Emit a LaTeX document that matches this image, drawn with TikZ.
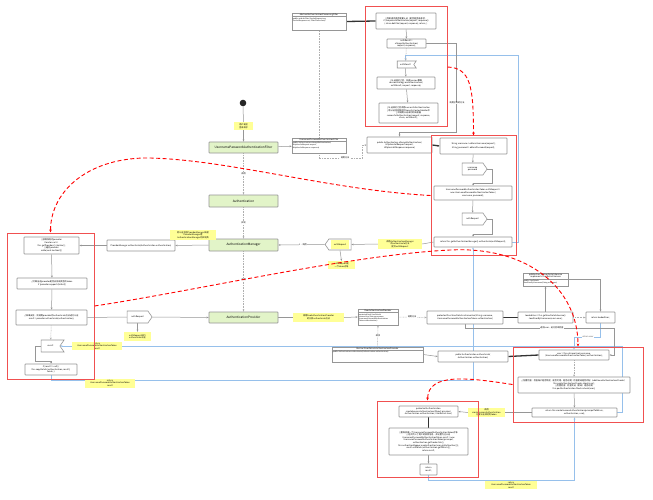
\documentclass[tikz,border=0pt]{standalone}
\usepackage{fontspec}
\newfontfamily\cjk{Noto Sans CJK SC}
\usetikzlibrary{arrows.meta,shapes.symbols,calc}
\definecolor{redf}{RGB}{240,80,80}
\definecolor{bluel}{RGB}{150,192,235}
\definecolor{greenf}{RGB}{226,244,200}
\definecolor{yel}{RGB}{255,255,150}
\definecolor{bord}{RGB}{150,150,150}
\definecolor{dotg}{RGB}{175,175,175}
\pgfdeclarelayer{back}
\pgfdeclarelayer{bg}
\pgfsetlayers{back,bg,main}
\tikzset{
 bx/.style={draw=bord, line width=0.6pt, fill=white, rounded corners=0.6pt, align=center, inner sep=0.5pt},
 grn/.style={draw=bord, line width=0.6pt, fill=greenf, rounded corners=0.6pt, minimum width=69pt, font=\cjk\fontsize{3.1}{3.8}\selectfont},
 cls/.style={draw=bord, line width=0.6pt, fill=white, inner sep=0pt},
 note/.style={fill=yel, align=center, inner sep=0.4pt},
 redbox/.style={draw=redf, line width=1pt},
 conn/.style={draw=bord, line width=0.5pt},
 arr/.style={-{Stealth[length=2.2pt,width=1.8pt]}},
 dotc/.style={draw=dotg, dash pattern=on 0.8pt off 0.8pt},
 thk/.style={draw=black!80, line width=1.3pt},
 blu/.style={draw=bluel, line width=0.7pt},
 rdash/.style={draw=red, line width=0.9pt, dash pattern=on 4pt off 2.5pt},
 rtip/.style={-{Stealth[length=3pt,width=2.6pt]}},
 lbl/.style={fill=white, inner sep=0.4pt},
 sigto/.style={draw=bord, line width=0.6pt, fill=white, signal, signal to=#1, signal pointer angle=110, inner sep=0.5pt, align=center},
 sigfrom/.style={draw=bord, line width=0.6pt, fill=white, signal, signal to=nowhere, signal from=#1, signal pointer angle=110, inner sep=0.5pt, align=center},
}
\newcommand\mkcls[8]{%
 \node[cls, minimum width=#4pt, minimum height=#5pt] (#1) at (#2,#3) {};
 \draw[draw=bord, line width=0.5pt] ([yshift=-#6pt]#1.north west) -- ([yshift=-#6pt]#1.north east);
 \node[inner sep=0, align=center] at ($(#1.north)+(0,#6/2)$) {#7};
 \node[inner sep=0, align=left, anchor=north west, font=\cjk\fontsize{1.8}{2.2}\selectfont] at ([shift={(1pt,-#6pt-0.8pt)}]#1.north west) {#8};
}
\begin{document}
\begin{tikzpicture}[x=1pt,y=-1pt,font=\cjk\fontsize{2.1}{2.6}\selectfont]
\begin{pgfonlayer}{back}
\fill[white] (0,0) rectangle (653,500);
\end{pgfonlayer}
\useasboundingbox (0,0) rectangle (653,500);

% ---------- start and green boxes ----------
\node[circle, fill=black!85, minimum size=6.6pt, inner sep=0] (start) at (243,103) {};
\node[note, minimum width=19pt, minimum height=8pt] (nStart) at (243.5,126) {用户发起\\登录请求};
\node[grn, minimum height=11pt] (gF) at (243.5,147.5) {UsernamePasswordAuthenticationFilter};
\node[grn, minimum height=12pt] (gA) at (243.5,201) {Authentication};
\node[grn, minimum height=12pt] (gM) at (243.5,245) {AuthenticationManager};
\node[grn, minimum height=11pt] (gP) at (243.5,317.5) {AuthenticationProvider};

% ---------- class boxes ----------
\mkcls{cAbs}{319}{21.5}{54}{17}{4}{AbstractAuthenticationProcessingFilter}{public void doFilter(ServletRequest req,\\ServletResponse res, FilterChain chain)}
\mkcls{cUP}{319}{145.5}{54}{15}{3.5}{UsernamePasswordAuthenticationFilter}{public Authentication attemptAuthentication(\\HttpServletRequest request,\\HttpServletResponse response)}
\mkcls{cDao}{378}{317}{40}{16}{4}{DaoAuthenticationProvider}{protected final UserDetails\\retrieveUser(String username,\\UsernamePasswordAuthentication\\Token authentication)}
\mkcls{cAUD}{377.5}{354.5}{91}{15}{3.5}{AbstractUserDetailsAuthenticationProvider}{public Authentication authenticate(Authentication authentication)}
\mkcls{cMy}{545.5}{279.5}{45}{13}{6.5}{public class MyUserDetailsService\\implements UserDetailsService}{public UserDetails\\loadUserByUsername(String username)}

% ---------- red box 1 ----------
\node[bx, minimum width=60pt, minimum height=16pt] (b1) at (406,21) {//判断请求是否需要认证（是否是登录请求）\\if (!requiresAuthentication(request, response))\\\{ chain.doFilter(request, response); return; \}};
\node[bx, minimum width=39pt, minimum height=9pt] (b2) at (406.5,43.5) {authResult =\\attemptAuthentication(\\request, response);};
\node[sigfrom=east, minimum width=19pt, minimum height=7pt] (sAR) at (405.5,64.5) {authResult};
\node[bx, minimum width=58pt, minimum height=12pt] (b3) at (406,83) {//认证成功之后，处理session策略\\sessionStrategy.onAuthentication(\\authResult, request, response);};
\node[bx, minimum width=59pt, minimum height=20pt] (b4) at (408.5,113) {//认证成功之后调用successfulAuthentication\\//将认证信息保存到SecurityContextHolder中\\//并调用认证成功的处理器\\successfulAuthentication(request, response,\\chain, authResult);};

% ---------- red box 2 ----------
\node[bx, minimum width=65pt, minimum height=16pt] (cAtt) at (399.5,145) {public Authentication attemptAuthentication(\\HttpServletRequest request,\\HttpServletResponse response)};
\node[bx, minimum width=67pt, minimum height=16pt] (p) at (473.5,146) {String username = obtainUsername(request);\\[2pt]String password = obtainPassword(request);};
\node[sigto=east, minimum width=25pt, minimum height=12pt] (q) at (472.5,169) {username\\password};
\node[bx, minimum width=78pt, minimum height=14pt] (r) at (473,193) {UsernamePasswordAuthenticationToken authRequest =\\new UsernamePasswordAuthenticationToken(\\username, password);};
\node[sigto=east, minimum width=25pt, minimum height=12pt] (s) at (472.5,219) {authRequest};
\node[bx, minimum width=78pt, minimum height=10pt] (t) at (473,242) {return this.getAuthenticationManager().authenticate(authRequest);};

% ---------- middle ----------
\node[sigto=west, minimum width=26pt, minimum height=11pt] (aR2) at (340,244.5) {\colorbox{yel}{authRequest}};
\node[note, minimum width=44pt, minimum height=10pt] (nSub) at (400,244) {调用AuthenticationManager\\的authenticate方法\\提交authRequest};
\node[note, minimum width=27pt, minimum height=8pt] (nTok) at (341.5,265) {authRequest是\\一个token对象};
\node[bx, minimum width=68pt, minimum height=11pt] (pm) at (141,245.5) {ProviderManager.authenticate(Authentication authentication)};
\node[note, minimum width=46pt, minimum height=10pt] (nPM) at (193,235) {把认证交给ProviderManager处理\\ProviderManager是\\AuthenticationManager的实现类};

% ---------- red box A ----------
\node[bx, minimum width=55pt, minimum height=17pt] (a1) at (51.5,245.5) {//获取所有的provider\\Iterator var8 =\\this.getProviders().iterator();\\//遍历provider\\while(var8.hasNext())};
\node[bx, minimum width=70pt, minimum height=11pt] (a2) at (52,283.5) {//判断当前provider是否支持该类型的token\\if (provider.supports(toTest))};
\node[bx, minimum width=71pt, minimum height=15pt] (a3) at (51.5,317.5) {//如果支持，则调用provider的authenticate方法进行认证\\result = provider.authenticate(authentication);};
\node[sigfrom=east, minimum width=23pt, minimum height=12pt] (resS) at (50.5,346) {result};
\node[bx, minimum width=52pt, minimum height=11pt] (a4) at (51,369.5) {if (result != null) \{\\this.copyDetails(authentication, result);\\break; \}};
\node[sigto=east, minimum width=25pt, minimum height=12pt] (aR3) at (137.5,317) {authRequest};
\node[note, minimum width=27pt, minimum height=9pt] (nAR) at (137.5,336.5) {authRequest进行\\authenticate认证};
\node[note, minimum width=50pt, minimum height=8pt] (nRet1) at (97,346) {return\\UsernamePasswordAuthenticationToken\\result};
\node[note, minimum width=50pt, minimum height=9pt] (nRet2) at (110,383) {return\\UsernamePasswordAuthenticationToken\\result};

% ---------- provider side ----------
\node[note, minimum width=51pt, minimum height=9pt] (nDao) at (318.5,317.5) {调用DaoAuthenticationProvider\\的父类authenticate方法};
\node[bx, minimum width=76pt, minimum height=13pt] (bE) at (465,317.5) {protected final UserDetails retrieveUser(String username,\\UsernamePasswordAuthenticationToken authentication)};
\node[bx, minimum width=70pt, minimum height=11pt] (bF) at (473,356.5) {public Authentication authenticate(\\Authentication authentication)};
\node[bx, minimum width=55pt, minimum height=11pt] (bH) at (545.5,317.5) {loadedUser = this.getUserDetailsService()\\.loadUserByUsername(username);};
\node[bx, minimum width=29pt, minimum height=11pt] (bI) at (600.5,317.5) {return loadedUser;};

% ---------- red box 3 ----------
\node[bx, minimum width=70pt, minimum height=10pt] (bJ) at (574,355) {user = this.retrieveUser(username,\\(UsernamePasswordAuthenticationToken) authentication);};
\node[bx, minimum width=112pt, minimum height=16pt] (bK) at (574,385) {//前置检查：检查账户是否锁定、是否可用、是否过期；检查密码是否匹配（additionalAuthenticationChecks）\\this.preAuthenticationChecks.check(user);\\//后置检查：检查凭证（密码）是否过期\\this.postAuthenticationChecks.check(user);};
\node[bx, minimum width=85pt, minimum height=9pt] (bL) at (574.5,412.5) {return this.createSuccessAuthentication(principalToReturn,\\authentication, user);};
\node[note, minimum width=37pt, minimum height=9pt] (nCr) at (486.5,412.5) {调用\\createSuccessAuthentication\\创建认证成功的token};

% ---------- red box 4 ----------
\node[bx, minimum width=59pt, minimum height=11pt] (bM) at (428.5,411.5) {protected Authentication\\createSuccessAuthentication(Object principal,\\Authentication authentication, UserDetails user)};
\node[bx, minimum width=79pt, minimum height=27pt] (bN) at (428.5,441.5) {//重新创建一个UsernamePasswordAuthenticationToken对象\\//这次传入了用户的权限信息，并设置为已认证\\UsernamePasswordAuthenticationToken result = new\\UsernamePasswordAuthenticationToken(principal,\\authentication.getCredentials(),\\this.authoritiesMapper.mapAuthorities(user.getAuthorities()));\\result.setDetails(authentication.getDetails());\\return result;};
\node[bx, minimum width=17pt, minimum height=11pt] (bO) at (428.5,469.5) {return\\result;};
\node[note, minimum width=52pt, minimum height=8pt] (nRet3) at (511,485) {return\\UsernamePasswordAuthenticationToken\\result};

% ---------- red frames ----------
\node[redbox, minimum width=82pt, minimum height=120pt] (R1) at (406,67) {};
\node[redbox, minimum width=85pt, minimum height=119pt] (R2) at (473.5,195.5) {};
\node[redbox, minimum width=87pt, minimum height=146pt] (RA) at (50.5,306) {};
\node[redbox, minimum width=130pt, minimum height=75pt] (R3) at (578,384.5) {};
\node[redbox, minimum width=101pt, minimum height=76pt] (R4) at (427.5,439) {};

% ---------- labels ----------
\node[lbl] (l1) at (243.5,174) {调用};
\node[lbl] (l2) at (243.5,223) {实现};
\node[lbl] (l3) at (243.5,280) {调用};
\node[lbl] (l4) at (303,245) {1 .. 调用};
\node[lbl] (l5) at (345,158) {调用方法};
\node[lbl] (l6) at (457,103) {调用子类的方法};
\node[lbl] (l7) at (412,317) {调用方法};
\node[lbl] (l8) at (378,336) {继承};
\node[lbl] (l9) at (552,328) {返回user，进行后续检查};
\node[lbl, text=black!70] (l10) at (588,337) {return user};

% ---------- connectors (background) ----------
\begin{pgfonlayer}{bg}
 % blue returns
 \draw[blu,arr] (t.east) -- ++(6,0) |- ([yshift=5pt]sAR.north) -- (sAR.north);
 \draw[blu,arr] (a4.south) -- ++(0,5.5) -| (t.south);
 \draw[blu,arr] (bL.east) -- ++(5,0) |- (resS.east);
 \draw[blu,arr] (bI.south) -- ++(0,14) -| (bJ.north);
 \draw[blu,arr] (bO.south) -- ++(0,5) -| (bL.south);
 % left column
 \draw[conn] (start) -- (nStart);
 \draw[conn,arr] (nStart) -- (gF);
 \draw[conn,dotc,arr] (gF) -- (gA);
 \draw[conn,dotc,arr] (gA) -- (gM);
 \draw[conn,dotc,arr] (gM) -- (gP);
 \draw[conn,arr] (gF) -- (cUP);
 \draw[conn,dotc] (cUP) -- (cAbs);
 \draw[thk] (cAbs.east) -- (b1.west);
 \draw[conn,dotc,arr] (cUP.south) -- ++(0,5) -| ([xshift=-4pt]cAtt.west) -- (cAtt.west);
 % red box 1
 \draw[conn,arr] (b1) -- (b2);
 \draw[conn,dotc,arr] (b2) -- (sAR);
 \draw[conn,arr] (sAR) -- (b3);
 \draw[conn,arr] (b3) -- (b4);
 \draw[conn,arr] (b2.east) -- ++(30,0) |- ([yshift=4pt]cAtt.north) -- (cAtt.north);
 % red box 2
 \draw[thk,arr] (cAtt.east) -- (p.west);
 \draw[conn,arr] (p) -- (q);
 \draw[conn,arr] (q.east) -- ++(5,0) |- ([yshift=2pt]r.north) -- (r.north);
 \draw[conn,arr] (r) -- (s);
 \draw[conn,arr] (s.east) -- ++(5,0) |- ([yshift=2pt]t.north) -- (t.north);
 \draw[conn] (t.west) -- (nSub.east);
 \draw[conn,arr] (nSub.west) -- (aR2.east);
 \draw[conn,arr] (aR2.west) -- (gM.east);
 \draw[conn,arr] (aR2.south) -- (nTok.north);
 \draw[conn,arr] (gM.west) -- (pm.east);
 \draw[conn,arr] (pm.west) -- (a1.east);
 % red box A
 \draw[conn,arr] (a1) -- (a2);
 \draw[conn,arr] (a2) -- (a3);
 \draw[conn,dotc,arr] (a3) -- (resS);
 \draw[conn,arr] (resS.west) -- ++(-6,0) |- ([yshift=2pt]a4.north) -- (a4.north);
 \draw[conn] (a3.east) -- (aR3.west);
 \draw[conn,arr] (aR3.east) -- (gP.west);
 \draw[conn,arr] (aR3.south) -- (nAR.north);
 % provider
 \draw[conn] (gP.east) -- (nDao.west);
 \draw[conn,arr] (nDao.east) -- (cDao.west);
 \draw[conn,dotc,arr] (cDao.east) -- (bE.west);
 \draw[conn,dotc,arr] (cAUD.north) -- (cDao.south);
 \draw[conn,arr] (cAUD.east) -- (bF.west);
 \draw[thk] (bF.east) -- (bJ.west);
 \draw[thk] (bE.east) -- (bH.west);
 \draw[conn,arr] (bH.north) -- (cMy.south);
 \draw[conn,arr] (cMy.east) -| (bI.north);
 \draw[conn,dotc,arr] (bH.east) -- (bI.west);
 \draw[conn,arr] (bE.south) -- ++(0,4) -| ([xshift=5pt]bJ.east) -- (bJ.east);
 % red box 3 / 4
 \draw[conn,dotc,arr] (bJ) -- (bK);
 \draw[conn,arr] (bK) -- (bL);
 \draw[conn] (bL.west) -- (nCr.east);
 \draw[conn,arr] (nCr.west) -- (bM.east);
 \draw[thk] (bM.south) -- (bN.north);
 \draw[conn,arr] (bN) -- (bO);
\end{pgfonlayer}

% ---------- red dashed flow ----------
\draw[rdash,rtip] (R1.east) .. controls (470,68) and (473.5,85) .. (R2.north);
\draw[rdash,rtip] (R2.west) .. controls (330,190) and (230,160) .. (150,158) .. controls (90,157) and (50.5,190) .. (RA.north);
\draw[rdash,rtip] (RA.east) .. controls (200,290) and (350,255) .. (450,250) .. controls (530,246) and (578,290) .. (R3.north);
\draw[rdash,rtip] (R3.west) .. controls (470,378) and (428,372) .. (R4.north);
\end{tikzpicture}
\end{document}
